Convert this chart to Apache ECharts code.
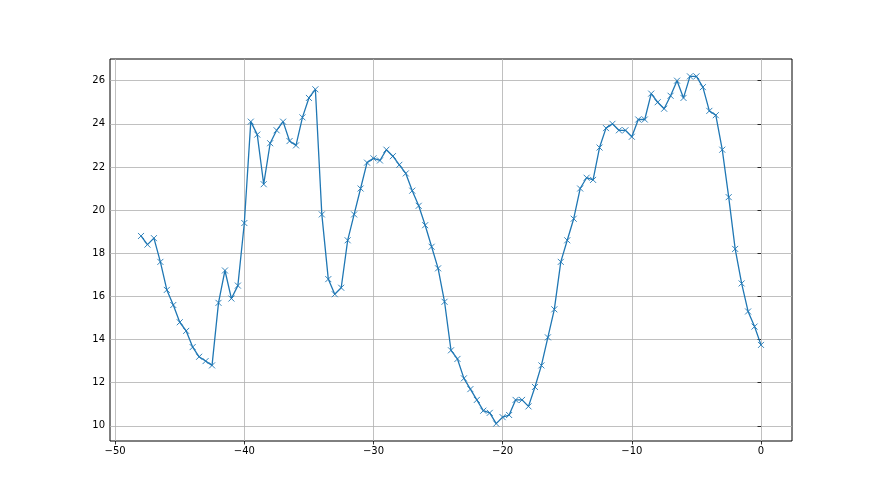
<!DOCTYPE html>
<html>
<head>
<meta charset="utf-8">
<script src="https://cdn.jsdelivr.net/npm/echarts@6/dist/echarts.min.js"></script>
<style>
html,body{margin:0;padding:0;background:#fff;}
#chart{width:880px;height:495px;}
</style>
</head>
<body>
<div id="chart"></div>
<script>
const xValues = [
  -48, -47.5, -47, -46.5, -46, -45.5, -45, -44.5, -44, -43.5,
  -43, -42.5, -42, -41.5, -41, -40.5, -40, -39.5, -39, -38.5,
  -38, -37.5, -37, -36.5, -36, -35.5, -35, -34.5, -34, -33.5,
  -33, -32.5, -32, -31.5, -31, -30.5, -30, -29.5, -29, -28.5,
  -28, -27.5, -27, -26.5, -26, -25.5, -25, -24.5, -24, -23.5,
  -23, -22.5, -22, -21.5, -21, -20.5, -20, -19.5, -19, -18.5,
  -18, -17.5, -17, -16.5, -16, -15.5, -15, -14.5, -14, -13.5,
  -13, -12.5, -12, -11.5, -11, -10.5, -10, -9.5, -9, -8.5,
  -8, -7.5, -7, -6.5, -6, -5.5, -5, -4.5, -4, -3.5,
  -3, -2.5, -2, -1.5, -1, -0.5, 0
];
const yValues = [
  18.8, 18.4, 18.7, 17.6, 16.3, 15.6, 14.8, 14.4, 13.65, 13.2,
  13.0, 12.8, 15.7, 17.2, 15.9, 16.5, 19.4, 24.1, 23.5, 21.2,
  23.1, 23.7, 24.1, 23.2, 23.0, 24.3, 25.2, 25.6, 19.8, 16.8,
  16.1, 16.4, 18.6, 19.8, 21.0, 22.2, 22.4, 22.3, 22.8, 22.5,
  22.1, 21.7, 20.9, 20.2, 19.3, 18.3, 17.3, 15.75, 13.5, 13.1,
  12.2, 11.7, 11.2, 10.7, 10.6, 10.1, 10.4, 10.5, 11.2, 11.2,
  10.9, 11.8, 12.8, 14.1, 15.4, 17.6, 18.6, 19.6, 21.0, 21.5,
  21.4, 22.9, 23.8, 24.0, 23.7, 23.7, 23.4, 24.2, 24.2, 25.4,
  25.0, 24.7, 25.3, 26.0, 25.2, 26.2, 26.2, 25.7, 24.6, 24.4,
  22.8, 20.6, 18.2, 16.6, 15.3, 14.6, 13.75
];
const xTicks = [-50, -40, -30, -20, -10, 0];
const yTicks = [10, 12, 14, 16, 18, 20, 22, 24, 26];

const xMin = -50.4, xMax = 2.4, yMin = 9.295, yMax = 27.005;

const fmt = v => String(v).replace('-', '\u2212');

const chart = echarts.init(document.getElementById('chart'), null, {renderer: 'canvas'});
const labelStyle = {color: '#000', fontFamily: 'DejaVu Sans', fontSize: 10};
chart.setOption({
  animation: false,
  backgroundColor: '#fff',
  grid: {left: 110, right: 88, top: 59, bottom: 54, show: true, borderColor: '#000', borderWidth: 1, backgroundColor: 'transparent', containLabel: false},
  xAxis: {
    type: 'value', min: xMin, max: xMax,
    axisLine: {show: false},
    axisTick: {show: true, length: 3.5, inside: false, customValues: xTicks, lineStyle: {color: '#000', width: 0.8}},
    axisLabel: Object.assign({show: true, margin: 5, customValues: xTicks, formatter: fmt}, labelStyle),
    splitLine: {show: true, lineStyle: {color: '#b0b0b0', width: 0.8}}
  },
  yAxis: {
    type: 'value', min: yMin, max: yMax, splitNumber: 9,
    axisLine: {show: false},
    axisTick: {show: true, length: 3.5, inside: false, customValues: yTicks, lineStyle: {color: '#000', width: 0.8}},
    axisLabel: Object.assign({show: true, margin: 5, customValues: yTicks, formatter: fmt}, labelStyle),
    splitLine: {show: true, lineStyle: {color: '#b0b0b0', width: 0.8}}
  },
  series: [{
    type: 'line',
    data: xValues.map((x, i) => [x, yValues[i]]),
    lineStyle: {color: '#1f77b4', width: 1.3},
    symbol: 'path://M0,0L10,10M10,0L0,10',
    symbolSize: 6,
    showSymbol: true,
    itemStyle: {color: '#1f77b4', borderColor: '#1f77b4', borderWidth: 0.9},
    z: 3
  }]
});
</script>
</body>
</html>
